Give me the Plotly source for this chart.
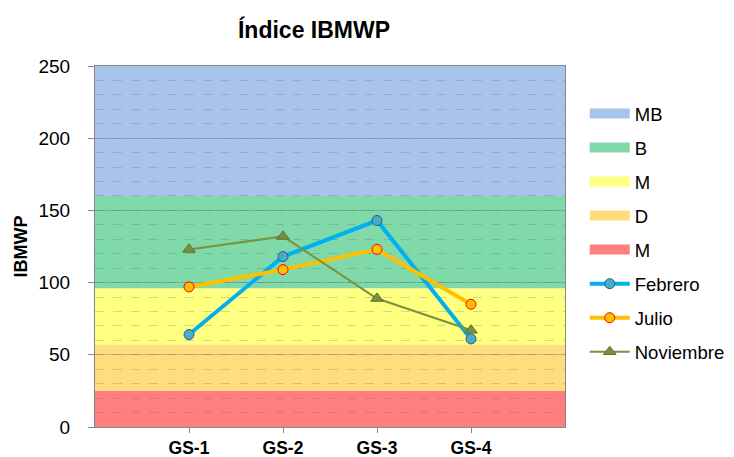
import plotly.graph_objects as go

categories = ["GS-1", "GS-2", "GS-3", "GS-4"]
febrero = [64, 118, 143, 61]
julio = [97, 109, 123, 85]
noviembre = [123, 132, 89, 67]

band_names = ["MB", "B", "M", "D", "M"]
band_lower = [160, 96, 57, 25, 0]
band_upper = [250, 160, 96, 57, 25]
band_colors = ["#A9C4EB", "#80D9A8", "#FFFF80", "#FFDC7E", "#FF7F7F"]

y_ticks = [0, 50, 100, 150, 200, 250]

fig = go.Figure()

for i, (name, lo, hi, col) in enumerate(zip(band_names, band_lower, band_upper, band_colors)):
    fig.add_shape(type="rect", xref="x", yref="y", x0=-1, x1=4, y0=lo, y1=hi,
                  fillcolor=col, line_width=0, layer="below")
    fig.add_trace(go.Scatter(x=[None], y=[None], mode="lines", name=name,
                             line=dict(color=col, width=10), legendgroup=f"g{i}",
                             showlegend=True))

fig.add_trace(go.Scatter(x=categories, y=febrero, name="Febrero", mode="lines+markers",
                         line=dict(color="#00B0F0", width=4),
                         marker=dict(symbol="circle", size=10, color="#4BACC6",
                                     line=dict(color="#1F5F8B", width=1)),
                         legendgroup="f"))
fig.add_trace(go.Scatter(x=categories, y=julio, name="Julio", mode="lines+markers",
                         line=dict(color="#FFC000", width=4),
                         marker=dict(symbol="circle", size=10, color="#FFC000",
                                     line=dict(color="#FF0000", width=1)),
                         legendgroup="j"))
fig.add_trace(go.Scatter(x=categories, y=noviembre, name="Noviembre", mode="lines+markers",
                         line=dict(color="#77933C", width=2),
                         marker=dict(symbol="triangle-up", size=11, color="#77933C",
                                     line=dict(color="#5A6E2D", width=1)),
                         legendgroup="n"))

fig.update_layout(
    width=726, height=449,
    margin=dict(l=87, r=169, t=58, b=30, autoexpand=False),
    paper_bgcolor="white", plot_bgcolor="white",
    font=dict(family="Liberation Sans, Arial, sans-serif", color="black"),
    title=dict(text="<b>Índice IBMWP</b>", x=0.4215, xanchor="center", y=0.951, yanchor="middle",
               font=dict(size=23, color="black")),
    showlegend=True,
    legend=dict(x=1.042, xanchor="left", y=0.92, yanchor="top", tracegroupgap=7,
                font=dict(size=18.5), bgcolor="rgba(0,0,0,0)", itemwidth=40),
)

fig.update_xaxes(type="category", range=[-1, 4], showline=True, linecolor="#868686", linewidth=1,
                 mirror=True, ticks="outside", ticklen=5, tickcolor="#868686",
                 showgrid=False, tickfont=dict(size=17.5), zeroline=False, automargin=False,
                 tickvals=categories, ticktext=[f"<b>{c}</b>" for c in categories])

fig.update_yaxes(range=[0, 250], tickvals=y_ticks, showline=True, linecolor="#868686", linewidth=1,
                 mirror=True, ticks="outside", ticklen=6, tickcolor="#868686",
                 showgrid=True, gridcolor="rgba(90,100,120,0.35)", gridwidth=1,
                 minor=dict(dtick=10, showgrid=True, griddash="dash",
                            gridcolor="rgba(90,100,120,0.25)", gridwidth=1, ticks=""),
                 tickfont=dict(size=19), zeroline=False, automargin=False,
                 ticklabelstandoff=14,
                 title=dict(text="<b>IBMWP</b>", font=dict(size=18), standoff=6))

fig.write_html("out.html")
